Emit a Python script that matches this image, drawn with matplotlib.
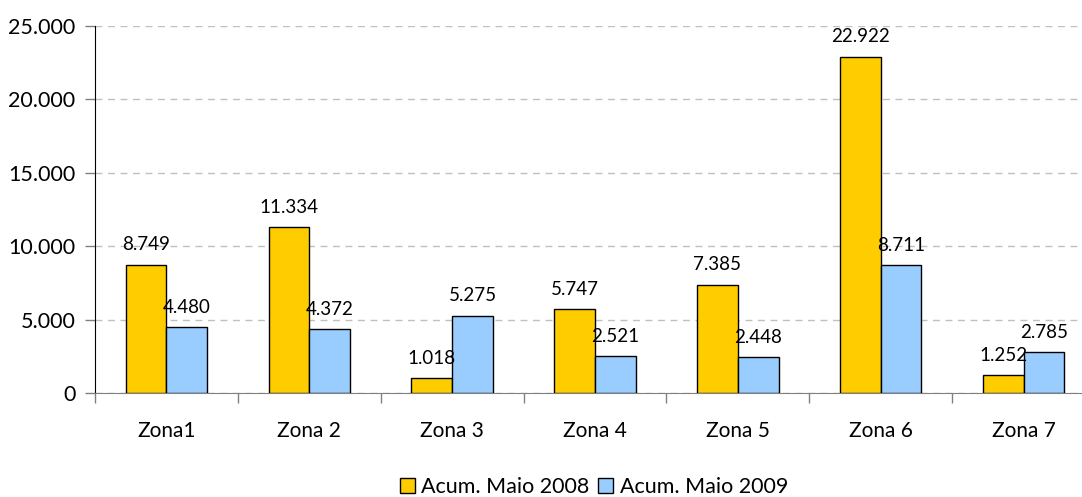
import matplotlib.pyplot as plt
import numpy as np

plt.rcParams['font.family'] = ['Lato', 'DejaVu Sans']

zonas = ["Zona1", "Zona 2", "Zona 3", "Zona 4", "Zona 5", "Zona 6", "Zona 7"]
maio_2008 = [8749, 11334, 1018, 5747, 7385, 22922, 1252]
maio_2009 = [4480, 4372, 5275, 2521, 2448, 8711, 2785]
series_names = ["Acum. Maio 2008", "Acum. Maio 2009"]


def fmt(v):
    return f"{v:,}".replace(",", ".")


fig = plt.figure(figsize=(10.82, 4.97), dpi=100)
ax = fig.add_axes([95 / 1082, 104 / 497, 1000 / 1082, 367 / 497])

x = np.arange(len(zonas))
w = 0.285
b1 = ax.bar(x - w / 2, maio_2008, w, color="#FFCC00", edgecolor="black", linewidth=1, label=series_names[0], zorder=3)
b2 = ax.bar(x + w / 2, maio_2009, w, color="#99CCFF", edgecolor="black", linewidth=1, label=series_names[1], zorder=3)

for bars, vals in [(b1, maio_2008), (b2, maio_2009)]:
    for r, v in zip(bars, vals):
        ax.annotate(fmt(v), (r.get_x() + r.get_width() / 2, v), xytext=(0, 8),
                    textcoords="offset points", ha="center", va="bottom", fontsize=13.5)

ax.set_xlim(-0.5, len(zonas) - 0.5)
ax.set_ylim(0, 25000)
ax.set_yticks(range(0, 25001, 5000))
ax.set_yticklabels([fmt(v) for v in range(0, 25001, 5000)], fontsize=15.5)
ax.yaxis.grid(True, linestyle=(0, (5, 4)), color="#C0C0C0", linewidth=1)
ax.set_axisbelow(True)

ax.set_xticks(x)
ax.set_xticklabels(zonas, fontsize=15)
ax.tick_params(axis="x", length=0, pad=20)
ax.set_xticks(np.arange(-0.5, len(zonas), 1), minor=True)
ax.tick_params(axis="x", which="minor", length=7, color="#808080", width=1)
ax.tick_params(axis="y", length=7, color="#808080", width=1, pad=7)

for s in ["top", "right"]:
    ax.spines[s].set_visible(False)
ax.spines["left"].set_color("black")
ax.spines["bottom"].set_color("#808080")

fig.legend(loc="center", bbox_to_anchor=(594 / 1082, 1 - 487 / 497), ncol=2, frameon=False,
           fontsize=15.5, handlelength=0.7, handleheight=0.7, handletextpad=0.3, columnspacing=0.4)

fig.savefig("out.png", dpi=100)
